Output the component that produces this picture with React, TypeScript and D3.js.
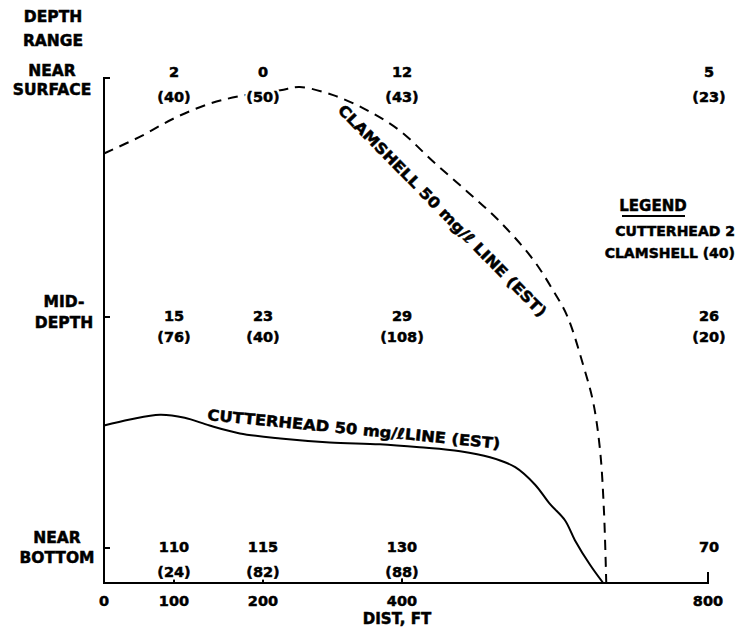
import React from "react";
import * as d3 from "d3";

// ---- data ----
const DIST_TICKS = [0, 100, 200, 400, 800];
const COLUMNS = [100, 200, 400, 800];
const ROW_LABELS = [["NEAR", "SURFACE"], ["MID-", "DEPTH"], ["NEAR", "BOTTOM"]];
const CUTTERHEAD_SURFACE = [2, 0, 12, 5];
const CUTTERHEAD_MID = [15, 23, 29, 26];
const CUTTERHEAD_BOTTOM = [110, 115, 130, 70];
const CLAMSHELL_SURFACE = [40, 50, 43, 23];
const CLAMSHELL_MID = [76, 40, 108, 20];
const CLAMSHELL_BOTTOM = [24, 82, 88, null];
// 50 mg/l lines: [distance ft, depth index (0 = near surface, 1 = mid, 2 = near bottom)]
const CLAMSHELL_LINE: [number, number][] = [
  [0, 0.31], [51, 0.24], [101, 0.16], [140, 0.1], [174, 0.068], [225, 0.043], [253, 0.03],
  [301, 0.064], [350, 0.128], [397, 0.214], [440, 0.342], [485, 0.47], [528, 0.598],
  [571, 0.756], [597, 0.885], [616, 0.996], [637, 1.21], [650, 1.37], [659, 1.58],
  [664, 1.84], [667, 2.15],
];
const CUTTERHEAD_LINE: [number, number][] = [
  [0, 1.47], [37, 1.444], [80, 1.423], [112, 1.436], [140, 1.47], [174, 1.504],
  [225, 1.526], [296, 1.543], [368, 1.551], [423, 1.564], [476, 1.581], [515, 1.607],
  [548, 1.65], [574, 1.726], [593, 1.808], [613, 1.88], [626, 1.966], [646, 2.073],
  [663, 2.15],
];

const FONT = "'DejaVu Sans', sans-serif";

export default function App() {
  const W = 743, H = 634;
  // hand-drawn distance axis: tick spacing is not perfectly uniform
  const x = d3.scaleLinear().domain([0, 100, 200, 400, 800]).range([104, 174, 263, 402, 708]);
  const y = d3.scaleLinear().domain([0, 1, 2, 2.15]).range([80, 317, 548, 583]);
  const line = d3
    .line<[number, number]>()
    .x((d) => x(d[0]))
    .y((d) => y(d[1]))
    .curve(d3.curveCatmullRom.alpha(0.5));

  const rows = [
    { c: CUTTERHEAD_SURFACE, k: CLAMSHELL_SURFACE, off: -3, gap: 25 },
    { c: CUTTERHEAD_MID, k: CLAMSHELL_MID, off: 4, gap: 21 },
    { c: CUTTERHEAD_BOTTOM, k: CLAMSHELL_BOTTOM, off: 4, gap: 25 },
  ];
  const x0 = x(0);
  const yBase = y(2.15);

  const word = { fontFamily: FONT, fontWeight: 700, fontSize: 15.5, fill: "#000", stroke: "#000", strokeWidth: 0.5 } as const;
  const num = { ...word, fontSize: 14.5 } as const;
  const halo = { ...num, fill: "#fff", stroke: "#fff", strokeWidth: 5 } as const;
  const legendItem = { ...word, fontSize: 14 } as const;

  const cell = (key: string, cx: number, cy: number, s: string) => (
    <g key={key}>
      <text x={cx} y={cy} textAnchor="middle" style={halo}>{s}</text>
      <text x={cx} y={cy} textAnchor="middle" style={num}>{s}</text>
    </g>
  );

  return (
    <svg width={W} height={H} style={{ position: "absolute", left: 0, top: 0, background: "#fff" }}>
      {/* header */}
      <text x={53} y={22} textAnchor="middle" style={word}>DEPTH</text>
      <text x={53} y={46} textAnchor="middle" style={word}>RANGE</text>
      {/* row labels */}
      <text x={52} y={76} textAnchor="middle" style={word}>{ROW_LABELS[0][0]}</text>
      <text x={52} y={95} textAnchor="middle" style={word}>{ROW_LABELS[0][1]}</text>
      <text x={64} y={307} textAnchor="middle" style={word}>{ROW_LABELS[1][0]}</text>
      <text x={64} y={328} textAnchor="middle" style={word}>{ROW_LABELS[1][1]}</text>
      <text x={57} y={543} textAnchor="middle" style={word}>{ROW_LABELS[2][0]}</text>
      <text x={57} y={563} textAnchor="middle" style={word}>{ROW_LABELS[2][1]}</text>

      {/* lines */}
      <path d={line(CLAMSHELL_LINE) || ""} fill="none" stroke="#000" strokeWidth={2} strokeDasharray="10 7" />
      <path d={line(CUTTERHEAD_LINE) || ""} fill="none" stroke="#000" strokeWidth={2} />

      {/* axes */}
      <path
        d={`M${x0 + 6},${y(0) - 2}H${x0}V${yBase}H${x(800)}V${yBase - 11}`}
        fill="none"
        stroke="#000"
        strokeWidth={2}
      />
      {[1, 2].map((r) => (
        <line key={r} x1={x0} x2={x0 + 6} y1={y(r)} y2={y(r)} stroke="#000" strokeWidth={2} />
      ))}
      {DIST_TICKS.filter((t) => t > 0 && t < 800).map((t) => (
        <line key={t} x1={x(t)} x2={x(t)} y1={yBase} y2={yBase - 10} stroke="#000" strokeWidth={2} />
      ))}
      {DIST_TICKS.map((t) => (
        <text key={t} x={x(t)} y={606} textAnchor="middle" style={num}>{t}</text>
      ))}
      <text x={397} y={624} textAnchor="middle" style={{ ...word, fontSize: 15 }}>DIST, FT</text>

      {/* cell values */}
      {rows.map((row, ri) =>
        COLUMNS.map((col, ci) => {
          const cx = x(col) + (col === 800 ? 1 : 0);
          const cy = y(ri) + row.off;
          const v = row.k[ci];
          return (
            <g key={`${ri}-${ci}`}>
              {cell(`a${ri}-${ci}`, cx, cy, String(row.c[ci]))}
              {v !== null && cell(`b${ri}-${ci}`, cx, cy + row.gap, `(${v})`)}
            </g>
          );
        })
      )}

      {/* line labels */}
      <text
        transform={`translate(337,111) rotate(45.5)`}
        textLength={290}
        lengthAdjust="spacingAndGlyphs"
        style={{ ...word, fontSize: 15 }}
      >
        CLAMSHELL 50 mg/ℓ LINE (EST)
      </text>
      <text
        transform={`translate(207,420) rotate(5.6)`}
        textLength={294}
        lengthAdjust="spacingAndGlyphs"
        style={{ ...word, fontSize: 15 }}
      >
        CUTTERHEAD 50 mg/ℓLINE (EST)
      </text>

      {/* legend */}
      <text x={653} y={211} textAnchor="middle" style={{ ...word, fontSize: 15 }}>LEGEND</text>
      <line x1={622} x2={685} y1={216} y2={216} stroke="#000" strokeWidth={2} />
      <text x={735} y={236} textAnchor="end" style={legendItem}>
        CUTTERHEAD 2
      </text>
      <text x={735} y={258} textAnchor="end" style={legendItem}>
        CLAMSHELL (40)
      </text>
    </svg>
  );
}
